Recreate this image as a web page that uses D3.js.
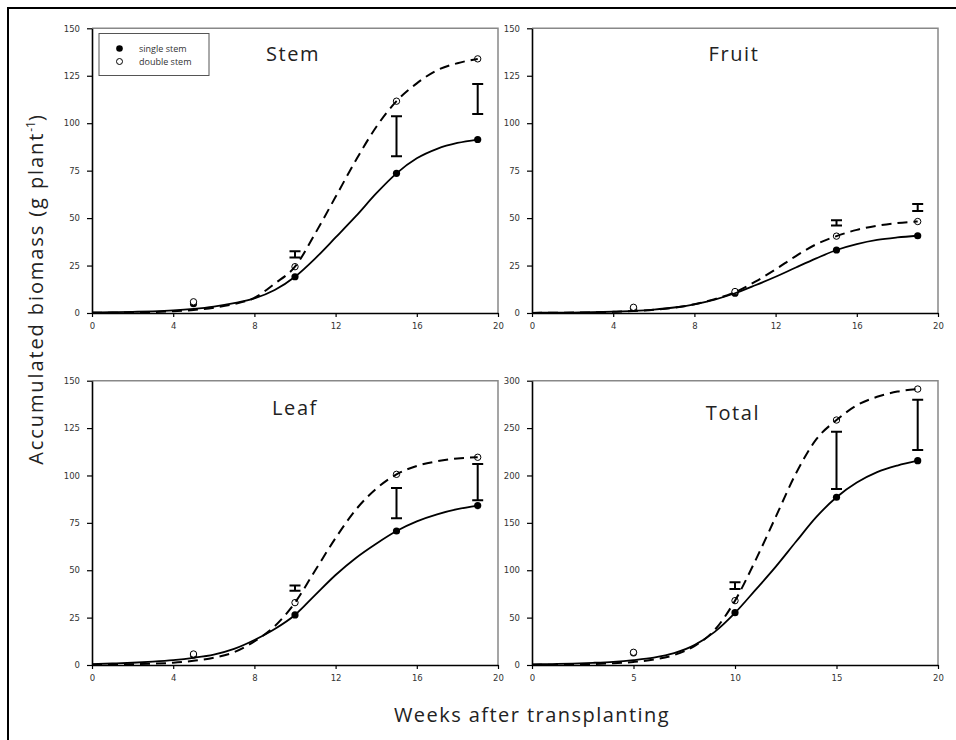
<!DOCTYPE html>
<html><head><meta charset="utf-8">
<script src="https://cdn.jsdelivr.net/npm/d3@7"></script>
<style>
html,body{margin:0;padding:0;background:#fff;}
svg{display:block;}
</style></head>
<body>
<svg id="chart" width="956" height="740"></svg>
<script>
// ---- data ----
const weeks = [5, 10, 15, 19];
const stemSingle  = [4.9, 19.1, 73.6, 91.4];
const stemDouble  = [5.9, 24.4, 111.6, 133.9];
const fruitSingle = [2.5, 10.4, 33.2, 40.7];
const fruitDouble = [3.0, 11.3, 40.5, 48.2];
const leafSingle  = [5.3, 26.4, 70.7, 84.1];
const leafDouble  = [5.8, 32.9, 100.6, 109.6];
const totalSingle = [12.8, 55.2, 177, 215.6];
const totalDouble = [13.4, 67.9, 258.5, 291.2];

const errWeeks3 = [10, 15, 19];
const errWeeks2 = [15, 19];
const stemErrLo  = [29.3, 82.6, 104.9];
const stemErrHi  = [32.6, 103.7, 120.7];
const fruitErrLo = [46.1, 53.8];
const fruitErrHi = [48.9, 57.4];
const leafErrLo  = [39.2, 77.4, 86.9];
const leafErrHi  = [42.0, 93.4, 106.1];
const totalErrLo = [80.2, 185.7, 226.9];
const totalErrHi = [87.2, 246.2, 280.0];

// fitted curves at weeks 0..19
const fitWeeks = [0,1,2,3,4,5,6,7,8,9,10,11,12,13,14,15,16,17,18,19];
const stemFitSingle  = [0.3,0.4,0.6,0.9,1.4,2.2,3.4,5.2,7.7,12.1,19.1,28.8,39.8,51,63,73.6,81.5,86.5,89.6,91.4];
const stemFitDouble  = [0.1,0.15,0.3,0.5,0.9,1.6,2.8,4.7,8,15.5,24.4,42,61.2,80.5,98,111.6,121,127.9,131.6,133.9];
const fruitFitSingle = [0.1,0.15,0.25,0.4,0.7,1.1,1.8,2.9,4.6,7.1,10.4,14.6,19.1,24,28.8,33.2,36.3,38.5,39.8,40.7];
const fruitFitDouble = [0.05,0.1,0.2,0.35,0.6,1.0,1.7,2.8,4.6,7.3,11,16.5,23,30,36.2,40.5,43.8,46,47.4,48.2];
const leafFitSingle  = [0.5,0.8,1.2,1.8,2.6,3.8,5.5,8.5,13.2,19,26.4,37,47.5,56.5,64,70.7,75.8,79.5,82.2,84.1];
const leafFitDouble  = [0.1,0.2,0.4,0.7,1.2,2.2,3.8,6.8,12.5,20.5,32.9,50,67,82,93,100.6,105,107.5,109,109.6];
const totalFitSingle = [0.7,1,1.5,2.3,3.4,5.2,7.8,12.5,21,35,55,79,103.5,130,156,177,192.5,203.5,210.5,215.6];
const totalFitDouble = [0.2,0.3,0.6,1.0,1.8,3.2,5.7,10.5,20,37,67.9,110,156,202,238,258.5,274,283,288.5,291.2];

const panelTitles = ["Stem", "Fruit", "Leaf", "Total"];
const yMaxes = [150, 150, 150, 300];
const yTicksSmall = [0, 25, 50, 75, 100, 125, 150];
const yTicksTotal = [0, 50, 100, 150, 200, 250, 300];
const xTicksA = [0, 4, 8, 12, 16, 20];
const xTicksB = [0, 5, 10, 15, 20];
const legendLabels = ["single stem", "double stem"];
const yTitle = "Accumulated biomass (g plant";
const yTitleSup = "-1";
const xTitle = "Weeks after transplanting";

// ---- layout ----
const svg = d3.select("#chart");
const font = "'Open Sans', 'DejaVu Sans', sans-serif";
const tickFont = "'DejaVu Sans', sans-serif";

svg.append("rect").attr("x", 8).attr("y", 8).attr("width", 1200).attr("height", 1200)
  .attr("fill", "none").attr("stroke", "#000").attr("stroke-width", 2);

const panels = [
  {x0: 92,  x1: 498, y0: 28.3,  y1: 313, single: stemSingle,  double: stemDouble,  errW: errWeeks3, lo: stemErrLo,  hi: stemErrHi,  fs: stemFitSingle,  fd: stemFitDouble,  yt: yTicksSmall, xt: xTicksA, tx: 293, ty: 61},
  {x0: 532, x1: 938, y0: 28.3,  y1: 313, single: fruitSingle, double: fruitDouble, errW: errWeeks2, lo: fruitErrLo, hi: fruitErrHi, fs: fruitFitSingle, fd: fruitFitDouble, yt: yTicksSmall, xt: xTicksA, tx: 734, ty: 61},
  {x0: 92,  x1: 498, y0: 380.7, y1: 665, single: leafSingle,  double: leafDouble,  errW: errWeeks3, lo: leafErrLo,  hi: leafErrHi,  fs: leafFitSingle,  fd: leafFitDouble,  yt: yTicksSmall, xt: xTicksA, tx: 295, ty: 415},
  {x0: 532, x1: 938, y0: 380.7, y1: 665, single: totalSingle, double: totalDouble, errW: errWeeks3, lo: totalErrLo, hi: totalErrHi, fs: totalFitSingle, fd: totalFitDouble, yt: yTicksTotal, xt: xTicksB, tx: 733, ty: 420}
];

panels.forEach((p, i) => {
  const x = d3.scaleLinear().domain([0, 20]).range([p.x0, p.x1]);
  const y = d3.scaleLinear().domain([0, yMaxes[i]]).range([p.y1, p.y0]);
  const g = svg.append("g");

  g.append("path").attr("d", `M${p.x0},${p.y0}H${p.x1}V${p.y1}`)
    .attr("fill", "none").attr("stroke", "#888").attr("stroke-width", 1.5);

  const ax = g.append("g").attr("transform", `translate(0,${p.y1})`)
    .call(d3.axisBottom(x).tickValues(p.xt).tickSize(4).tickSizeOuter(0).tickPadding(6).tickFormat(d3.format("d")));
  const ay = g.append("g").attr("transform", `translate(${p.x0},0)`)
    .call(d3.axisLeft(y).tickValues(p.yt).tickSize(5).tickSizeOuter(0).tickPadding(7).tickFormat(d3.format("d")));
  [ax, ay].forEach(a => {
    a.select(".domain").attr("stroke", "#000").attr("stroke-width", 1.6);
    a.selectAll(".tick line").attr("stroke", "#000").attr("stroke-width", 1.2);
    a.selectAll(".tick text").attr("font-family", tickFont).attr("font-size", 8.5).attr("fill", "#333");
  });

  g.append("text").attr("x", p.tx).attr("y", p.ty).attr("text-anchor", "middle")
    .attr("font-family", font).attr("font-size", 20).attr("letter-spacing", 1.6).attr("fill", "#222")
    .text(panelTitles[i]);

  g.selectAll(".fill").data(weeks.map((w, k) => [w, p.single[k]])).join("circle")
    .attr("cx", d => x(d[0])).attr("cy", d => y(d[1])).attr("r", 3.6).attr("fill", "#000");
  g.selectAll(".open").data(weeks.map((w, k) => [w, p.double[k]])).join("circle")
    .attr("cx", d => x(d[0])).attr("cy", d => y(d[1])).attr("r", 3.2)
    .attr("fill", "#fff").attr("stroke", "#000").attr("stroke-width", 1);

  const line = d3.line().x(d => x(d[0])).y(d => y(d[1])).curve(d3.curveMonotoneX);
  g.append("path").attr("d", line(fitWeeks.map((w, k) => [w, p.fs[k]])))
    .attr("fill", "none").attr("stroke", "#000").attr("stroke-width", 1.8);
  g.append("path").attr("d", line(fitWeeks.map((w, k) => [w, p.fd[k]])))
    .attr("fill", "none").attr("stroke", "#000").attr("stroke-width", 2).attr("stroke-dasharray", "10,6");

  p.errW.forEach((w, k) => {
    const cx = x(w), ylo = y(p.lo[k]), yhi = y(p.hi[k]);
    g.append("path").attr("d", `M${cx-5.5},${yhi}H${cx+5.5}M${cx},${yhi}V${ylo}M${cx-5.5},${ylo}H${cx+5.5}`)
      .attr("fill", "none").attr("stroke", "#000").attr("stroke-width", 2);
  });
});

// legend
const lg = svg.append("g");
lg.append("rect").attr("x", 99).attr("y", 33.5).attr("width", 110).attr("height", 42)
  .attr("fill", "#fff").attr("stroke", "#555").attr("stroke-width", 1);
lg.append("circle").attr("cx", 119.5).attr("cy", 48.5).attr("r", 3.3).attr("fill", "#000");
lg.append("circle").attr("cx", 119.5).attr("cy", 61.5).attr("r", 3).attr("fill", "#fff").attr("stroke", "#000").attr("stroke-width", 1);
legendLabels.forEach((t, k) => {
  lg.append("text").attr("x", 139).attr("y", 51.8 + k * 13).attr("font-family", font)
    .attr("font-size", 9).attr("fill", "#333").text(t);
});

// axis titles
const yt = svg.append("text").attr("transform", "translate(43,289) rotate(-90)")
  .attr("text-anchor", "middle").attr("font-family", font).attr("font-size", 20)
  .attr("letter-spacing", 1.9).attr("fill", "#222");
yt.append("tspan").text(yTitle);
yt.append("tspan").attr("dy", -8).attr("font-size", 12).attr("letter-spacing", 0).text(yTitleSup);
yt.append("tspan").attr("dy", 8).text(")");

svg.append("text").attr("x", 532).attr("y", 722).attr("text-anchor", "middle")
  .attr("font-family", font).attr("font-size", 20).attr("letter-spacing", 1.45).attr("fill", "#222")
  .text(xTitle);
</script>
</body></html>
